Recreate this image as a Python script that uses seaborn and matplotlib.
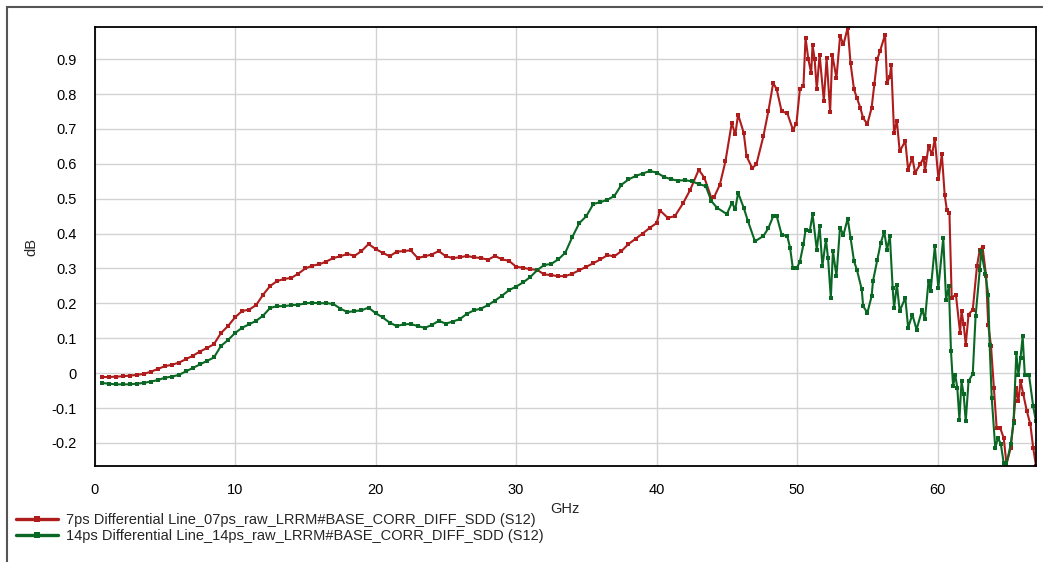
import numpy as np
import pandas as pd
import matplotlib
matplotlib.use("Agg")
import matplotlib.pyplot as plt
import seaborn as sns
from matplotlib.lines import Line2D
from matplotlib.patches import Rectangle

# ---------------- data ----------------
freq_7ps = [0.5, 1.0, 1.5, 2.0, 2.5, 3.0, 3.5, 4.0, 4.5, 5.0, 5.5, 6.0, 6.5, 7.0, 7.5, 8.0, 8.5, 9.0, 9.5,
            10.0, 10.5, 11.0, 11.5, 12.0, 12.5, 13.0, 13.5, 14.0, 14.5, 15.0, 15.5, 16.0, 16.5, 17.0, 17.5,
            18.0, 18.5, 19.0, 19.5, 20.0, 20.5, 21.0, 21.5, 22.0, 22.5, 23.0, 23.5, 24.0, 24.5, 25.0, 25.5,
            26.0, 26.5, 27.0, 27.5, 28.0, 28.5, 29.0, 29.5, 30.0, 30.5, 31.0, 31.5, 32.0, 32.5, 33.0, 33.5,
            34.0, 34.5, 35.0, 35.5, 36.0, 36.5, 37.0, 37.5, 38.0, 38.5, 39.0, 39.5, 40.0, 40.25, 40.8, 41.3,
            41.9, 42.4, 43.0, 43.4, 43.9, 44.1, 44.5, 44.9, 45.35, 45.6, 45.8, 46.2, 46.4, 46.8, 47.1, 47.6,
            47.95, 48.3, 48.55, 48.9, 49.3, 49.7, 49.95, 50.2, 50.45, 50.6, 50.8, 51.0, 51.1, 51.25, 51.4,
            51.6, 51.9, 52.1, 52.35, 52.5, 52.8, 53.06, 53.3, 53.6, 53.8, 54.05, 54.25, 54.5, 54.7, 55.0,
            55.3, 55.5, 55.7, 55.9, 56.26, 56.4, 56.6, 56.7, 56.9, 57.1, 57.3, 57.7, 57.9, 58.2, 58.4, 58.75,
            59.0, 59.1, 59.35, 59.6, 59.8, 60.06, 60.3, 60.5, 60.65, 60.84, 61.0, 61.3, 61.6, 61.7, 61.85,
            62.0, 62.2, 62.5, 62.8, 63.0, 63.2, 63.45, 63.6, 63.8, 64.0, 64.2, 64.45, 64.7, 64.9, 65.2, 65.4,
            65.6, 65.75, 65.9, 66.1, 66.35, 66.6, 66.8, 67.0]
db_7ps = [-0.011, -0.011, -0.010, -0.009, -0.007, -0.005, -0.002, 0.004, 0.012, 0.020, 0.024, 0.030, 0.040,
          0.050, 0.062, 0.072, 0.083, 0.115, 0.135, 0.160, 0.178, 0.182, 0.195, 0.225, 0.250, 0.264, 0.270,
          0.273, 0.285, 0.300, 0.308, 0.312, 0.320, 0.330, 0.335, 0.342, 0.336, 0.350, 0.370, 0.356, 0.345,
          0.335, 0.348, 0.350, 0.352, 0.330, 0.335, 0.340, 0.350, 0.335, 0.330, 0.332, 0.336, 0.332, 0.330,
          0.325, 0.336, 0.326, 0.322, 0.305, 0.302, 0.298, 0.296, 0.283, 0.281, 0.278, 0.278, 0.285, 0.295,
          0.305, 0.315, 0.326, 0.338, 0.335, 0.350, 0.370, 0.385, 0.400, 0.416, 0.430, 0.466, 0.445, 0.450,
          0.488, 0.526, 0.583, 0.560, 0.502, 0.505, 0.540, 0.607, 0.717, 0.684, 0.741, 0.689, 0.622, 0.588,
          0.598, 0.679, 0.750, 0.832, 0.813, 0.750, 0.745, 0.698, 0.715, 0.815, 0.822, 0.961, 0.899, 0.861,
          0.940, 0.899, 0.813, 0.913, 0.781, 0.902, 0.749, 0.913, 0.846, 0.966, 0.942, 0.990, 0.889, 0.813,
          0.789, 0.760, 0.731, 0.714, 0.760, 0.829, 0.899, 0.923, 0.970, 0.832, 0.850, 0.884, 0.689, 0.722,
          0.636, 0.665, 0.583, 0.617, 0.574, 0.598, 0.617, 0.579, 0.650, 0.627, 0.672, 0.555, 0.627, 0.512,
          0.469, 0.459, 0.216, 0.225, 0.115, 0.178, 0.140, 0.082, 0.168, 0.182, 0.307, 0.354, 0.361, 0.278,
          0.139, 0.077, -0.042, -0.157, -0.157, -0.185, -0.260, -0.214, -0.138, -0.042, -0.080, -0.023,
          -0.061, -0.109, -0.147, -0.214, -0.266]

freq_14ps = [0.5, 1.0, 1.5, 2.0, 2.5, 3.0, 3.5, 4.0, 4.5, 5.0, 5.5, 6.0, 6.5, 7.0, 7.5, 8.0, 8.5, 9.0, 9.5,
             10.0, 10.5, 11.0, 11.5, 12.0, 12.5, 13.0, 13.5, 14.0, 14.5, 15.0, 15.5, 16.0, 16.5, 17.0, 17.5,
             18.0, 18.5, 19.0, 19.5, 20.0, 20.5, 21.0, 21.5, 22.0, 22.5, 23.0, 23.5, 24.0, 24.5, 25.0, 25.5,
             26.0, 26.5, 27.0, 27.5, 28.0, 28.5, 29.0, 29.5, 30.0, 30.5, 31.0, 31.5, 32.0, 32.5, 33.0, 33.5,
             34.0, 34.5, 35.0, 35.5, 36.0, 36.5, 37.0, 37.5, 38.0, 38.5, 39.0, 39.5, 40.0, 40.5, 41.0, 41.5,
             42.0, 42.5, 43.0, 43.5, 43.9, 44.3, 45.0, 45.35, 45.6, 45.8, 46.2, 46.5, 47.0, 47.6, 47.95, 48.3,
             48.55, 48.9, 49.3, 49.5, 49.7, 49.97, 50.2, 50.45, 50.6, 50.9, 51.1, 51.4, 51.6, 51.8, 52.05,
             52.2, 52.4, 52.55, 52.8, 53.05, 53.3, 53.6, 53.8, 54.05, 54.25, 54.6, 54.7, 55.0, 55.3, 55.4,
             55.7, 55.95, 56.2, 56.4, 56.6, 56.8, 56.9, 57.1, 57.3, 57.7, 57.9, 58.2, 58.5, 58.9, 59.1, 59.35,
             59.5, 59.8, 60.05, 60.4, 60.6, 60.8, 60.95, 61.1, 61.25, 61.4, 61.55, 61.7, 61.85, 62.0, 62.2,
             62.5, 62.7, 63.0, 63.1, 63.4, 63.6, 63.7, 63.85, 64.1, 64.3, 64.5, 64.7, 64.9, 65.2, 65.4, 65.6,
             65.75, 65.9, 66.05, 66.2, 66.5, 66.8, 67.0]
db_14ps = [-0.028, -0.030, -0.032, -0.032, -0.032, -0.030, -0.028, -0.024, -0.020, -0.013, -0.010, -0.005,
           0.005, 0.015, 0.025, 0.035, 0.045, 0.078, 0.095, 0.115, 0.130, 0.140, 0.150, 0.165, 0.187, 0.192,
           0.192, 0.195, 0.196, 0.200, 0.202, 0.200, 0.201, 0.198, 0.185, 0.175, 0.178, 0.180, 0.188, 0.172,
           0.160, 0.145, 0.135, 0.140, 0.141, 0.135, 0.130, 0.138, 0.150, 0.142, 0.148, 0.155, 0.170, 0.180,
           0.185, 0.195, 0.208, 0.222, 0.238, 0.248, 0.260, 0.275, 0.295, 0.310, 0.313, 0.326, 0.345, 0.390,
           0.430, 0.450, 0.485, 0.490, 0.497, 0.508, 0.540, 0.555, 0.565, 0.572, 0.579, 0.575, 0.563, 0.556,
           0.552, 0.553, 0.550, 0.542, 0.536, 0.493, 0.474, 0.456, 0.488, 0.470, 0.517, 0.474, 0.436, 0.378,
           0.393, 0.415, 0.450, 0.450, 0.397, 0.393, 0.359, 0.300, 0.300, 0.320, 0.369, 0.410, 0.407, 0.455,
           0.354, 0.421, 0.307, 0.383, 0.330, 0.216, 0.350, 0.278, 0.416, 0.397, 0.443, 0.388, 0.321, 0.297,
           0.240, 0.192, 0.173, 0.220, 0.264, 0.323, 0.373, 0.405, 0.354, 0.393, 0.244, 0.187, 0.254, 0.178,
           0.216, 0.130, 0.168, 0.125, 0.182, 0.154, 0.264, 0.235, 0.364, 0.244, 0.388, 0.211, 0.249, 0.063,
           -0.037, -0.004, -0.042, -0.133, -0.023, -0.060, -0.138, -0.023, -0.002, 0.163, 0.297, 0.350,
           0.283, 0.225, 0.082, -0.071, -0.214, -0.185, -0.204, -0.257, -0.260, -0.204, -0.142, 0.058,
           -0.004, 0.044, 0.106, -0.004, -0.004, -0.095, -0.138]

label_7ps = "7ps Differential Line_07ps_raw_LRRM#BASE_CORR_DIFF_SDD (S12)"
label_14ps = "14ps Differential Line_14ps_raw_LRRM#BASE_CORR_DIFF_SDD (S12)"
x_ticks = [0, 10, 20, 30, 40, 50, 60]
x_tick_labels = ["0", "10", "20", "30", "40", "50", "60"]
y_ticks = [-0.2, -0.1, 0.0, 0.1, 0.2, 0.3, 0.4, 0.5, 0.6, 0.7, 0.8, 0.9]
y_tick_labels = ["-0.2", "-0.1", "0", "0.1", "0.2", "0.3", "0.4", "0.5", "0.6", "0.7", "0.8", "0.9"]

RED = "#AE1C1C"
GREEN = "#0A6824"

# ---------------- figure ----------------
sns.set_style("white")
plt.rcParams['font.family'] = ['Liberation Sans', 'DejaVu Sans']
plt.rcParams['font.size'] = 10.5

W, H = 1043, 562
fig = plt.figure(figsize=(W / 100, H / 100), dpi=100)
ax = fig.add_axes([94.5 / W, 1 - 466 / H, (1036 - 94.5) / W, (466 - 27) / H])

df = pd.concat([
    pd.DataFrame({"GHz": freq_7ps, "dB": db_7ps, "series": label_7ps}),
    pd.DataFrame({"GHz": freq_14ps, "dB": db_14ps, "series": label_14ps}),
], ignore_index=True)

sns.lineplot(data=df, x="GHz", y="dB", hue="series",
             palette={label_7ps: RED, label_14ps: GREEN},
             estimator=None, marker="s", markersize=3.2, markeredgewidth=0,
             linewidth=1.5, legend=False, ax=ax)

ax.set_xlim(0, 67)
ax.set_ylim(-0.266, 0.992)
ax.set_xticks(x_ticks)
ax.set_xticklabels(x_tick_labels)
ax.set_yticks(y_ticks)
ax.set_yticklabels(y_tick_labels)
ax.grid(True, color="#d2d2d2", linewidth=1.0)
ax.set_axisbelow(True)
for sp in ax.spines.values():
    sp.set_color("black")
    sp.set_linewidth(1.3)
ax.tick_params(axis="both", direction="out", length=3, width=1, color="black",
               labelsize=10.5, labelcolor="black")
ax.tick_params(axis="y", pad=10)
ax.tick_params(axis="x", pad=9)
ax.set_xlabel("GHz", fontsize=10.5, labelpad=4)
ax.set_ylabel("dB", fontsize=10.5, labelpad=9)

handles = [Line2D([0], [0], color=RED, lw=2.4, marker="s", markersize=4, markeredgewidth=0),
           Line2D([0], [0], color=GREEN, lw=2.4, marker="s", markersize=4, markeredgewidth=0)]
fig.legend(handles, [label_7ps, label_14ps], loc="upper left",
           bbox_to_anchor=(16 / W, 1 - 513 / H), frameon=False, fontsize=10.5,
           handlelength=2.9, handletextpad=0.5, labelspacing=0.12,
           borderaxespad=0, borderpad=0)

fig.add_artist(Rectangle((7 / W, -0.05), 1.2, 1 - 7 / H + 0.05, transform=fig.transFigure,
                         fill=False, edgecolor="#555555", linewidth=1.5))

fig.savefig("out.png", dpi=100)
